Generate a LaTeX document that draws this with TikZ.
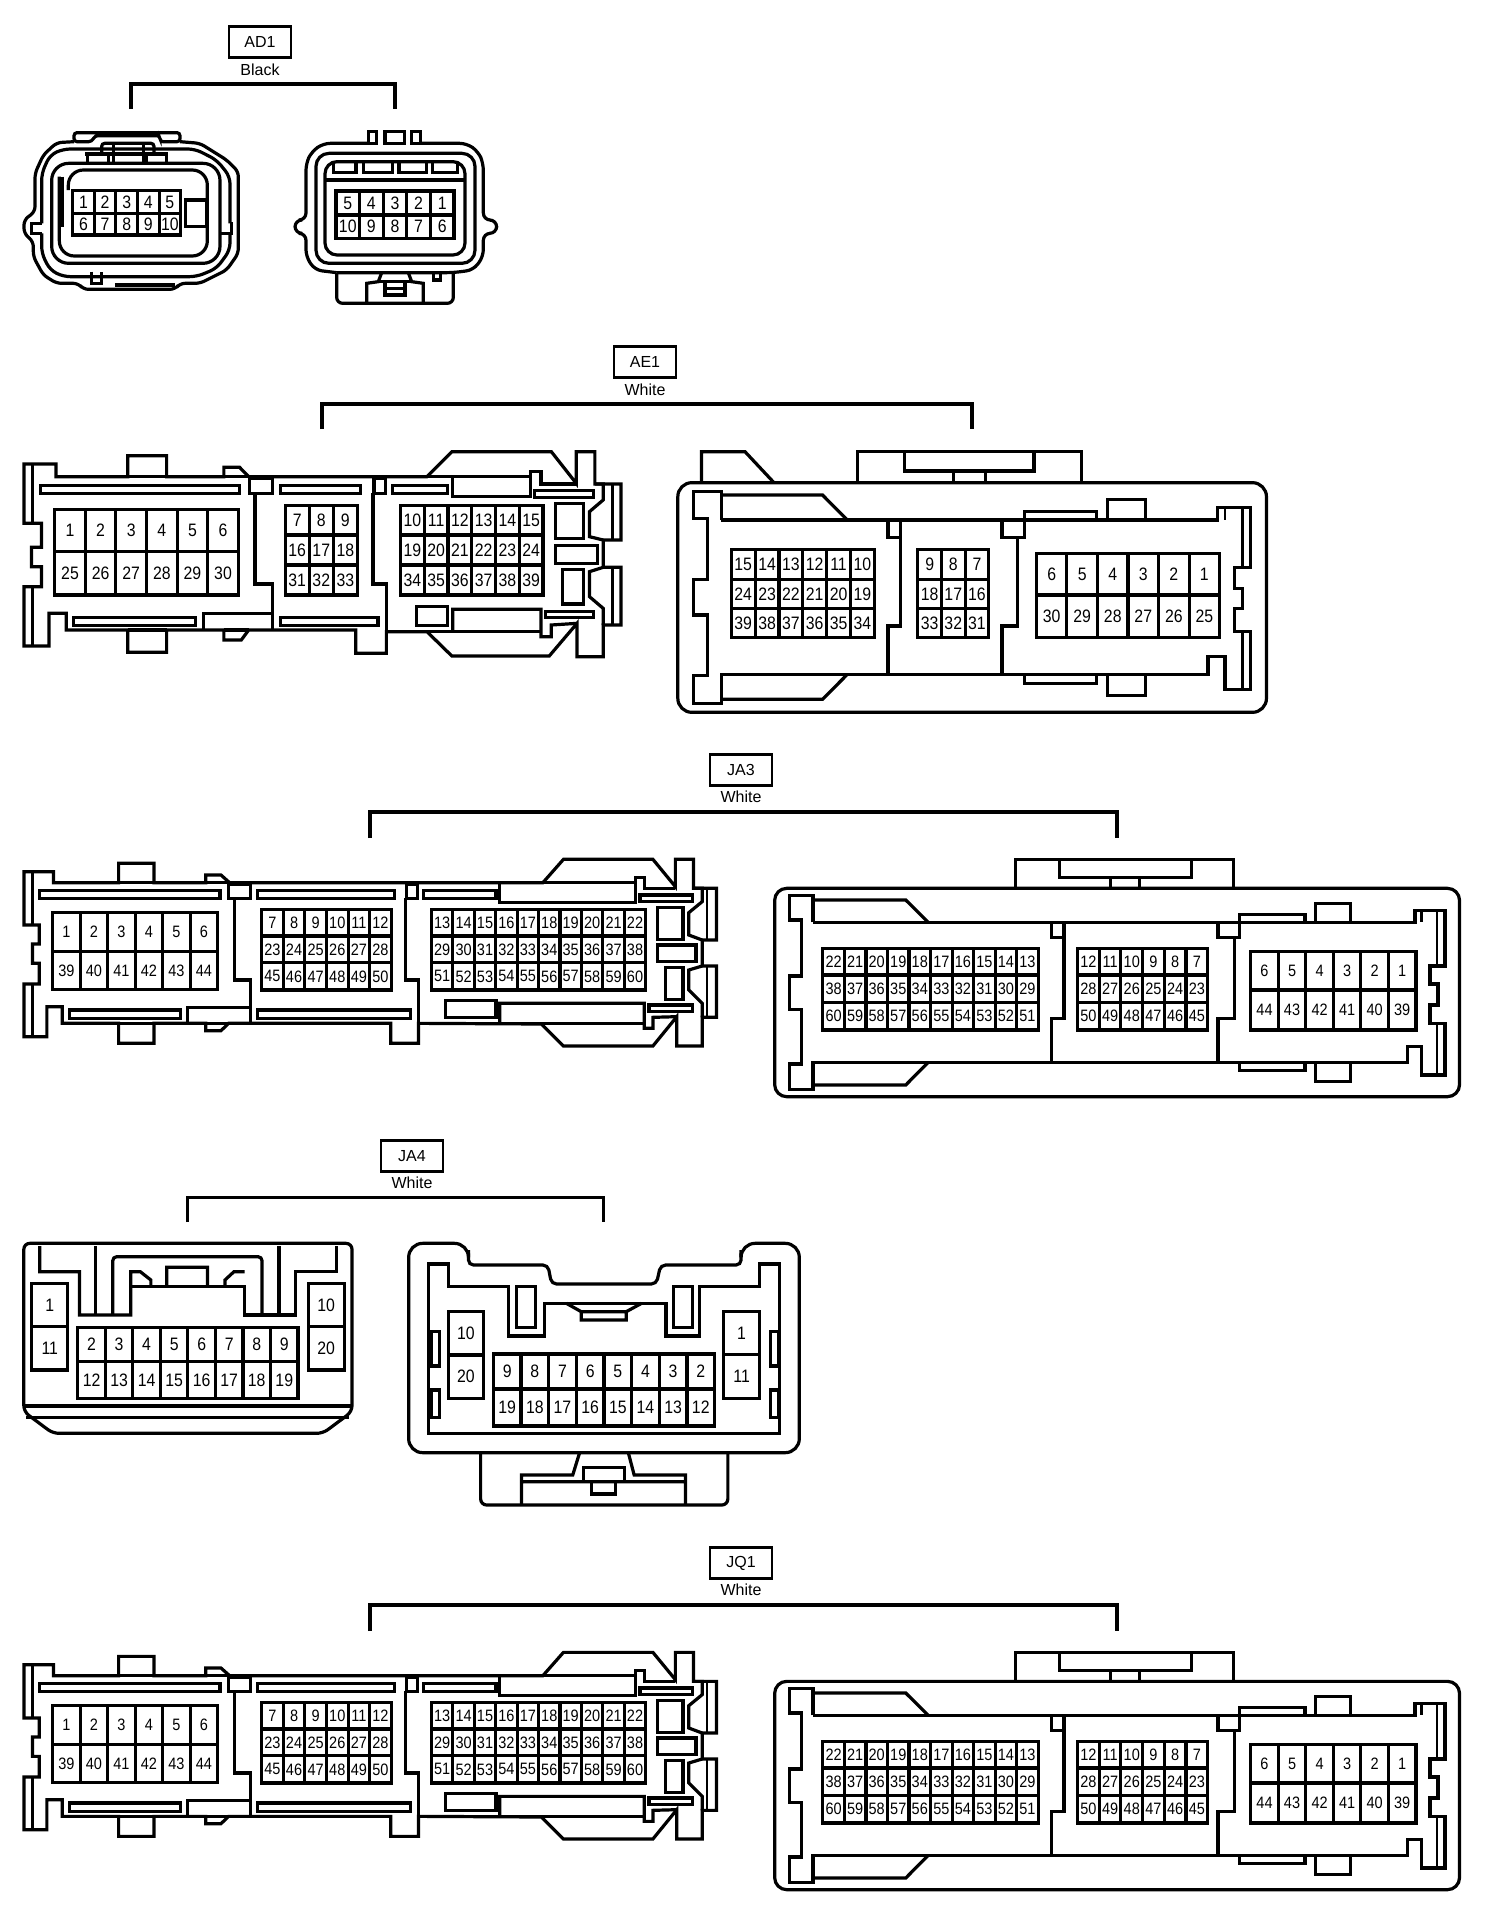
\documentclass[tikz,border=0pt]{standalone}
\usepackage{fontspec}
\setmainfont{Liberation Sans}
\newfontfamily\pinf[FakeStretch=0.88]{Liberation Sans}
\tikzset{
  ol/.style={draw=black,line width=3.2pt,line join=miter},
  thinl/.style={draw=black,line width=2.4pt},
  pinline/.style={draw=black,line width=3.1pt},
  pinsize/.style={font=\pinf\fontsize{18}{18}\selectfont},
  pinnum/.style={pinsize,inner sep=0pt,text=black},
  tagbox/.style={draw=black,line width=2.8pt,minimum width=62pt,minimum height=31pt,inner sep=0pt,font=\fontsize{16}{16}\selectfont},
  coltext/.style={inner sep=0pt,font=\fontsize{16}{16}\selectfont},
  brk/.style={draw=black,line width=4pt,line join=miter},
}
\newcommand\pinrow[6]{%
  \draw[pinline] (#2,#4) rectangle (#3,#5);
  \foreach \n [count=\cc] in {#6} {\xdef\pincount{\cc}}
  \foreach \n [count=\cc] in {#6} {
    \pgfmathsetmacro\xb{#2+\cc*(#3-#2)/\pincount}
    \pgfmathsetmacro\xm{#2+(\cc-0.5)*(#3-#2)/\pincount}
    \pgfmathsetmacro\ym{(#4+#5)/2}
    \node[pinnum] (#1-\n) at (\xm,\ym) {\n};
    \ifnum\cc<\pincount \draw[pinline] (\xb,#4) -- (\xb,#5);\fi
  }
}
\newcommand\conntag[6]{% name, x, ybox, text, ycolour, colour
  \node[tagbox] (#1) at (#2,#3) {#4};
  \node[coltext] (#1-col) at (#2,#5) {#6};
}
\newcommand\bracket[6]{% name,xl,xr,ytop,ybot,width
  \coordinate (#1-a) at (#2,#5);
  \coordinate (#1-b) at (#2,#4);
  \coordinate (#1-c) at (#3,#4);
  \coordinate (#1-d) at (#3,#5);
  \draw[brk,line width=#6pt] (#1-a) -- (#1-b) -- (#1-c) -- (#1-d);
}
\newcommand\jaLeft[2]{%
\begin{scope}[x=0.47832pt,y=-0.33333pt,shift={(0pt,-#2pt)},pinsize/.style={font=\pinf\fontsize{16.5}{16.5}\selectfont}]
\draw[ol] (50,335)--(112,335)--(112,368)--(248,368)--(248,310)--(322,310)--(322,368)--(430,368)--(430,345)--(462,345)--(480,368)--(1135,368)--(1178,298)--(1365,298)--(1412,380)--(1412,298)--(1450,298)--(1450,385)--(1498,385)--(1498,540)--(1468,540)--(1468,618)--(1498,618)--(1498,772)--(1468,772)--(1468,858)--(1415,858)--(1415,770)--(1365,858)--(1178,858)--(1132,792)--(875,790)--(875,850)--(817,850)--(817,790)--(478,790)--(462,812)--(430,812)--(430,790)--(322,790)--(322,850)--(248,850)--(248,790)--(130,790)--(130,740)--(98,740)--(98,830)--(50,830)--(50,672)--(82,672)--(82,610)--(68,610)--(68,552)--(82,552)--(82,495)--(50,495)--cycle;
\draw[ol] (248,368)--(322,368) (430,368)--(480,368) (1135,368)--(1328,368) (248,790)--(322,790) (430,790)--(478,790) (875,790)--(1347,790);
\draw[thinl] (68,335)--(68,495) (68,672)--(68,830) (1478,388)--(1478,540) (1478,618)--(1478,772);
\draw[ol] (82,392) rectangle (460,415) (538,392) rectangle (825,415) (885,392) rectangle (1037,415) (145,750) rectangle (377,775) (538,750) rectangle (858,775);
\draw[ol] (478,372) rectangle (523,415) (850,372) rectangle (873,415);
\draw[ol] (490,415)--(490,660)--(523,660)--(523,790) (848,415)--(848,660)--(875,660)--(875,790) (392,790)--(392,742)--(523,742);
\draw[ol] (1045,372)--(1045,428)--(1328,428)--(1328,352)--(1347,352)--(1347,385)--(1412,385);
\draw[ol] (1338,405) rectangle (1448,425);
\draw[ol] (1450,385)--(1468,385)--(1468,425)--(1440,458)--(1440,525)--(1468,540);
\draw[ol] (1468,618)--(1440,630)--(1440,690)--(1468,730)--(1468,772);
\draw[ol] (1375,442) rectangle (1428,538) (1375,555) rectangle (1455,605) (1392,622) rectangle (1428,718) (1357,735) rectangle (1448,755) (932,722) rectangle (1037,772);
\draw[ol] (1045,790)--(1045,730)--(1347,730)--(1347,805)--(1365,805)--(1365,772)--(1415,770);
\pinrow{#1a}{110}{455}{458}{575}{1,2,3,4,5,6}
\pinrow{#1a}{110}{455}{575}{688}{39,40,41,42,43,44}
\pinrow{#1b}{547}{818}{448}{528}{7,8,9,10,11,12}
\pinrow{#1b}{547}{818}{528}{608}{23,24,25,26,27,28}
\pinrow{#1b}{547}{818}{608}{690}{45,46,47,48,49,50}
\pinrow{#1c}{902}{1350}{448}{528}{13,14,15,16,17,18,19,20,21,22}
\pinrow{#1c}{902}{1350}{528}{608}{29,30,31,32,33,34,35,36,37,38}
\pinrow{#1c}{902}{1350}{608}{690}{51,52,53,54,55,56,57,58,59,60}
\end{scope}}
\newcommand\jaRight[2]{%
\begin{scope}[x=0.46811pt,y=-0.33333pt,shift={(770pt,-#2pt)},pinsize/.style={font=\pinf\fontsize{16.5}{16.5}\selectfont}]
\draw[ol,rounded corners=12pt] (10,385) rectangle (1473,1010);
\draw[ol] (525,385)--(525,298)--(990,298)--(990,385) (618,298)--(618,352)--(900,352)--(900,298) (728,352)--(728,385) (790,352)--(790,385);
\draw[ol] (92,487)--(92,407)--(42,407)--(42,480)--(68,480)--(68,648)--(42,648)--(42,748)--(68,748)--(68,912)--(42,912)--(42,988)--(92,988)--(92,907)--(1362,907)--(1362,860)--(1392,860)--(1392,945)--(1442,945)--(1442,790)--(1410,790)--(1410,735)--(1427,735)--(1427,672)--(1410,672)--(1410,618)--(1442,618)--(1442,452)--(1378,452)--(1378,487)--(92,487);
\draw[ol] (92,420)--(290,420)--(338,487) (92,975)--(290,975)--(338,907);
\draw[thinl] (1425,452)--(1425,618) (1425,790)--(1425,945) (1392,452)--(1392,487);
\draw[ol] (628,487)--(628,775)--(602,775)--(602,907) (602,487)--(602,532)--(628,532);
\draw[ol] (992,532)--(992,775)--(957,775)--(957,907) (957,487)--(957,532)--(1003,532)--(1003,463)--(1143,463)--(1143,487);
\draw[ol] (1165,487)--(1165,430)--(1240,430)--(1240,487) (1003,907)--(1003,932)--(1143,932)--(1143,907) (1165,907)--(1165,965)--(1240,965)--(1240,907);
\pinrow{#1a}{113}{573}{565}{645}{22,21,20,19,18,17,16,15,14,13}
\pinrow{#1a}{113}{573}{645}{727}{38,37,36,35,34,33,32,31,30,29}
\pinrow{#1a}{113}{573}{727}{810}{60,59,58,57,56,55,54,53,52,51}
\pinrow{#1b}{657}{935}{565}{645}{12,11,10,9,8,7}
\pinrow{#1b}{657}{935}{645}{727}{28,27,26,25,24,23}
\pinrow{#1b}{657}{935}{727}{810}{50,49,48,47,46,45}
\pinrow{#1c}{1027}{1380}{575}{690}{6,5,4,3,2,1}
\pinrow{#1c}{1027}{1380}{690}{810}{44,43,42,41,40,39}
\end{scope}}
\begin{document}
\begin{tikzpicture}[x=1pt,y=-1pt]
\useasboundingbox (0,0) rectangle (1504,1914);
\fill[white] (0,0) rectangle (1504,1914);
% ---------- labels and brackets
\conntag{ad1}{260}{42}{AD1}{70}{Black}
\bracket{ad1b}{131}{395}{84}{109}{4}
\conntag{ae1}{645}{362}{AE1}{390}{White}
\bracket{ae1b}{322}{972}{404}{429}{4}
\conntag{ja3}{741}{770}{JA3}{797}{White}
\bracket{ja3b}{370}{1117}{812}{838}{3.6}
\conntag{ja4}{412}{1156}{JA4}{1183}{White}
\bracket{ja4b}{187}{603}{1197}{1222}{3}
\conntag{jq1}{741}{1563}{JQ1}{1590}{White}
\bracket{jq1b}{370}{1117}{1605}{1631}{3.6}
% ---------- AD1
\begin{scope}[x=0.33333pt,y=-0.33333pt]
% left plug
\draw[ol,rounded corners=5pt] (222,425)--(170,428)--(130,465)--(105,520)--(105,635)--(72,660)--(72,700)--(100,725)--(100,770)--(130,825)--(170,850)--(235,850)--(250,868)--(525,868)--(540,850)--(600,850)--(680,810)--(715,760)--(715,515)--(680,480)--(600,430)--(540,425);
\draw[ol,rounded corners=3pt] (222,425)--(222,398)--(540,398)--(540,425)--(480,425)--(480,407)--(285,407)--(275,425)--cycle;
\draw[ol,rounded corners=7pt] (125,670)--(125,520)--(150,465)--(190,447)--(585,447)--(650,480)--(690,530)--(690,670);
\draw[ol] (125,670)--(95,670)--(95,700)--(125,700);
\draw[ol] (690,670)--(695,670)--(695,700)--(660,700);
\draw[ol,rounded corners=7pt] (125,700)--(125,760)--(150,810)--(190,830)--(590,830)--(650,805)--(690,750)--(690,700);
\draw[ol,rounded corners=17pt] (155,490) rectangle (660,790);
\draw[ol,rounded corners=15pt] (178,530)--(178,768)--(622,768)--(622,510)--(205,510)--(205,570);
\draw[ol] (186,530)--(186,680);
\draw[ol,rounded corners=3pt] (305,462)--(305,430)--(462,430)--(462,462);
\draw[ol] (340,430)--(340,490) (430,430)--(430,490) (255,462)--(505,462) (262,462)--(262,490) (325,462)--(325,490) (440,462)--(440,490) (500,462)--(500,490);
\draw[ol] (557,600)--(620,600)--(620,680)--(557,680)--cycle;
\draw[ol] (275,815)--(275,850)--(305,850)--(305,815);
\draw[ol] (345,855)--(525,855);
\pinrow{ad1l}{218}{542}{572}{640}{1,2,3,4,5}
\pinrow{ad1l}{218}{542}{640}{705}{6,7,8,9,10}
% right plug
\draw[ol,rounded corners=7pt] (1105,430)--(970,430)--(935,455)--(918,490)--(918,660)--(885,660)--(885,700)--(918,700)--(918,770)--(945,810)--(1010,818);
\draw[ol,rounded corners=7pt] (1262,430)--(1400,430)--(1435,455)--(1450,490)--(1450,660)--(1490,660)--(1490,700)--(1450,700)--(1450,770)--(1420,810)--(1360,818)--(1010,818);
\draw[ol] (1105,430)--(1105,395)--(1130,395)--(1130,430)--cycle (1155,430)--(1155,395)--(1213,395)--(1213,430)--cycle (1235,430)--(1235,395)--(1262,395)--(1262,430)--cycle;
\draw[ol,rounded corners=13pt] (948,460) rectangle (1425,790);
\draw[ol,rounded corners=12pt] (975,485) rectangle (1395,765);
\draw[ol] (975,540)--(1395,540);
\draw[ol] (1000,487)--(1000,517)--(1068,517)--(1068,487) (1090,487)--(1090,517)--(1178,517)--(1178,487) (1197,487)--(1197,517)--(1280,517)--(1280,487) (1298,487)--(1298,517)--(1372,517)--(1372,487);
\draw[ol,rounded corners=6pt] (1010,818)--(1010,910)--(1360,910)--(1360,818);
\draw[ol] (1300,818)--(1300,840)--(1322,840)--(1322,818);
\draw[ol] (1100,908)--(1100,850)--(1135,845)--(1145,818) (1270,908)--(1270,850)--(1235,845)--(1225,818);
\draw[ol] (1135,845)--(1235,845) (1155,845)--(1155,885)--(1215,885)--(1215,845) (1155,865)--(1215,865);
\pinrow{ad1r}{1008}{1362}{573}{645}{5,4,3,2,1}
\pinrow{ad1r}{1008}{1362}{645}{715}{10,9,8,7,6}
\end{scope}
% ---------- AE1 left
\begin{scope}[x=0.41454pt,y=-0.33333pt,shift={(0pt,-340pt)}]
\draw[ol] (58,372)--(135,372)--(135,410)--(308,410)--(308,347)--(402,347)--(402,410)--(540,410)--(540,382)--(578,382)--(600,410)--(1030,410)--(1090,335)--(1330,335)--(1390,430)--(1390,335)--(1435,335)--(1435,432)--(1498,432)--(1498,600)--(1455,600)--(1455,682)--(1498,682)--(1498,855)--(1455,855)--(1455,950)--(1392,950)--(1392,850)--(1325,948)--(1090,948)--(1030,875)--(932,875)--(932,940)--(858,940)--(858,870)--(600,870)--(582,900)--(540,900)--(540,870)--(402,870)--(402,937)--(308,937)--(308,870)--(160,870)--(160,820)--(118,820)--(118,918)--(58,918)--(58,740)--(100,740)--(100,680)--(76,680)--(76,622)--(100,622)--(100,550)--(58,550)--cycle;
\draw[ol] (308,410)--(402,410) (540,410)--(600,410) (1030,410)--(1280,410) (308,870)--(402,870) (540,870)--(600,870);
\draw[thinl] (78,372)--(78,550) (78,740)--(78,918) (1478,432)--(1478,600) (1478,682)--(1478,855);
\draw[ol] (1092,412)--(1092,470)--(1280,470)--(1280,395)--(1305,395)--(1305,432)--(1390,432);
\draw[ol] (1290,452) rectangle (1432,472);
\draw[ol] (1435,432)--(1455,432)--(1455,480)--(1422,515)--(1422,590)--(1455,600);
\draw[ol] (1455,682)--(1422,695)--(1422,770)--(1455,805)--(1455,855);
\draw[ol] (1340,490) rectangle (1407,595) (1340,617) rectangle (1442,670) (1357,688) rectangle (1407,792) (1315,815) rectangle (1432,832) (1005,800) rectangle (1080,857);
\draw[ol] (1092,875)--(1092,808)--(1305,808)--(1305,890)--(1330,890)--(1330,855)--(1392,850);
\draw[ol] (932,875)--(1305,875);
\draw[ol] (98,437) rectangle (578,460) (676,437) rectangle (870,460) (947,437) rectangle (1080,460) (178,832) rectangle (472,857) (676,832) rectangle (912,857);
\draw[ol] (602,415) rectangle (658,460) (902,415) rectangle (930,460);
\draw[ol] (615,460)--(615,732)--(658,732)--(658,870) (900,460)--(900,732)--(932,732)--(932,875) (490,870)--(490,820)--(658,820);
\pinrow{ae1la}{132}{575}{508}{635}{1,2,3,4,5,6}
\pinrow{ae1la}{132}{575}{635}{765}{25,26,27,28,29,30}
\pinrow{ae1lb}{688}{862}{497}{585}{7,8,9}
\pinrow{ae1lb}{688}{862}{585}{675}{16,17,18}
\pinrow{ae1lb}{688}{862}{675}{765}{31,32,33}
\pinrow{ae1lc}{966}{1310}{497}{585}{10,11,12,13,14,15}
\pinrow{ae1lc}{966}{1310}{585}{675}{19,20,21,22,23,24}
\pinrow{ae1lc}{966}{1310}{675}{765}{34,35,36,37,38,39}
\end{scope}
% ---------- AE1 right
\begin{scope}[x=0.41454pt,y=-0.33333pt,shift={(660pt,-340pt)}]
\draw[ol,rounded corners=14pt] (43,428) rectangle (1463,1117);
\draw[ol] (100,428)--(100,335)--(205,335)--(275,428);
\draw[ol] (477,428)--(477,335)--(1017,335)--(1017,428) (590,335)--(590,393)--(902,393)--(902,335) (708,393)--(708,428) (785,393)--(785,428);
\draw[ol] (148,540)--(148,455)--(80,455)--(80,535)--(115,535)--(115,718)--(80,718)--(80,825)--(115,825)--(115,1007)--(80,1007)--(80,1090)--(148,1090)--(148,1003)--(1322,1003)--(1322,950)--(1363,950)--(1363,1048)--(1425,1048)--(1425,875)--(1385,875)--(1385,805)--(1405,805)--(1405,745)--(1385,745)--(1385,682)--(1425,682)--(1425,503)--(1345,503)--(1345,540)--(148,540);
\draw[ol] (148,465)--(392,465)--(452,540) (148,1078)--(392,1078)--(452,1003);
\draw[thinl] (1405,503)--(1405,682) (1405,875)--(1405,1048) (1363,503)--(1363,540);
\draw[ol] (580,540)--(580,858)--(550,858)--(550,1003) (550,540)--(550,592)--(580,592);
\draw[ol] (862,592)--(862,858)--(825,858)--(825,1003) (825,540)--(825,592)--(880,592)--(880,515)--(1053,515)--(1053,540);
\draw[ol] (1080,540)--(1080,478)--(1172,478)--(1172,540) (880,1003)--(880,1030)--(1053,1030)--(1053,1003) (1080,1003)--(1080,1067)--(1172,1067)--(1172,1003);
\pinrow{ae1ra}{172}{517}{628}{718}{15,14,13,12,11,10}
\pinrow{ae1ra}{172}{517}{718}{805}{24,23,22,21,20,19}
\pinrow{ae1ra}{172}{517}{805}{893}{39,38,37,36,35,34}
\pinrow{ae1rb}{622}{793}{628}{718}{9,8,7}
\pinrow{ae1rb}{622}{793}{718}{805}{18,17,16}
\pinrow{ae1rb}{622}{793}{805}{893}{33,32,31}
\pinrow{ae1rc}{908}{1350}{640}{765}{6,5,4,3,2,1}
\pinrow{ae1rc}{908}{1350}{765}{893}{30,29,28,27,26,25}
\end{scope}
% ---------- JA3, JQ1
\jaLeft{ja3l}{760}
\jaRight{ja3r}{760}
\jaLeft{jq1l}{1553}
\jaRight{jq1r}{1553}
% ---------- JA4
\begin{scope}[x=0.52934pt,y=-0.33333pt,shift={(0pt,-1140pt)}]
\draw[ol,rounded corners=6pt] (45,310)--(665,310)--(665,815)--(610,880)--(100,880)--(45,815)--cycle;
\draw[ol] (75,318)--(75,395)--(150,395)--(150,525)--(247,525)--(247,395)--(265,395)--(285,420)--(285,440);
\draw[ol] (247,440)--(462,440)--(462,525)--(558,525)--(558,395)--(635,395)--(635,318);
\draw[ol] (180,318)--(180,525) (527,318)--(527,525);
\draw[ol,rounded corners=4pt] (213,525)--(213,350)--(495,350)--(495,525);
\draw[ol] (315,440)--(315,382)--(392,382)--(392,440) (425,440)--(425,420)--(442,395)--(462,395);
\draw[draw=black,line width=4pt] (45,798)--(665,798);
\draw[thinl] (50,832)--(660,832);
\pinrow{ja4la}{60}{128}{430}{560}{1}
\pinrow{ja4la}{60}{128}{560}{690}{11}
\pinrow{ja4lc}{582}{650}{430}{560}{10}
\pinrow{ja4lc}{582}{650}{560}{690}{20}
\pinrow{ja4lb}{147}{563}{562}{665}{2,3,4,5,6,7,8,9}
\pinrow{ja4lb}{147}{563}{665}{775}{12,13,14,15,16,17,18,19}
% right
\draw[ol,rounded corners=14pt] (885,340)--(885,310)--(772,310)--(772,938)--(1510,938)--(1510,310)--(1400,310)--(1400,340);
\draw[ol,rounded corners=5pt] (885,330)--(885,375)--(1035,375)--(1042,432)--(1240,432)--(1248,375)--(1400,375)--(1400,330);
\draw[ol] (810,880)--(810,372)--(848,372)--(848,440)--(960,440)--(960,588)--(1028,588)--(1028,490)--(1258,490)--(1258,588)--(1322,588)--(1322,440)--(1435,440)--(1435,372)--(1472,372)--(1472,880)--cycle;
\draw[ol] (975,440) rectangle (1012,562) (1272,440) rectangle (1308,562);
\draw[ol] (1070,490)--(1098,515)--(1098,540)--(1183,540)--(1183,515)--(1212,490) (1098,515)--(1183,515);
\draw[ol] (815,575) rectangle (830,678) (815,750) rectangle (830,832) (1455,575) rectangle (1470,678) (1455,750) rectangle (1470,832);
\draw[ol,rounded corners=6pt] (908,938)--(908,1095)--(1375,1095)--(1375,938);
\draw[ol] (985,1095)--(985,1005)--(1082,1005)--(1095,938) (1295,1095)--(1295,1005)--(1198,1005)--(1187,938) (985,1025)--(1295,1025);
\draw[ol] (1103,982) rectangle (1180,1025) (1118,1025)--(1118,1062)--(1162,1062)--(1162,1025);
\pinrow{ja4ra}{847}{913}{515}{645}{10}
\pinrow{ja4ra}{847}{913}{645}{775}{20}
\pinrow{ja4rc}{1367}{1435}{515}{643}{1}
\pinrow{ja4rc}{1367}{1435}{643}{775}{11}
\pinrow{ja4rb}{932}{1350}{642}{747}{9,8,7,6,5,4,3,2}
\pinrow{ja4rb}{932}{1350}{747}{858}{19,18,17,16,15,14,13,12}
\end{scope}
\end{tikzpicture}
\end{document}
